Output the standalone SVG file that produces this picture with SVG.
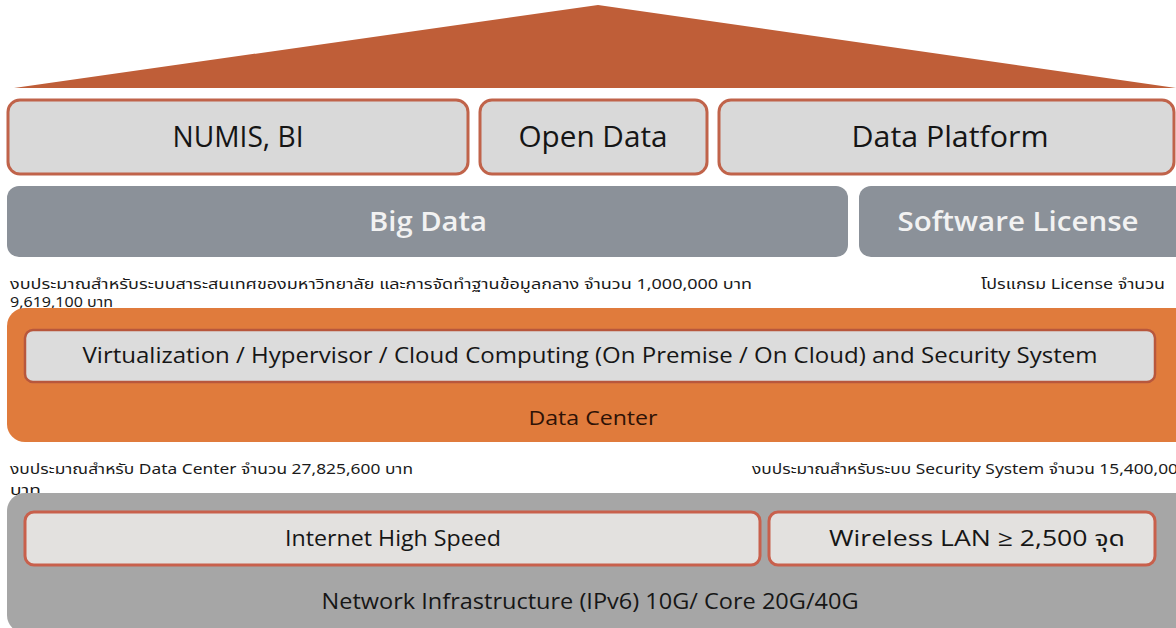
<svg xmlns="http://www.w3.org/2000/svg" width="1176" height="628" viewBox="0 0 1176 628">
<style>
.t{font-family:"Open Sans","Noto Sans","Noto Sans Thai",sans-serif;text-anchor:middle}
.top{fill:#D9D9D9;stroke:#C0634A;stroke-width:3}
.topt{font-size:29px;fill:#151515}
.mid{fill:#8B9199}
.midt{font-size:27px;fill:#F2F2F2;font-weight:600}
.note{font-family:"Noto Sans","Noto Sans Thai","Open Sans",sans-serif;font-size:14.5px;fill:#1a1a1a}
.inner{fill:#DCDCDC;stroke:#B8573C;stroke-width:2.5}
.net{fill:#E3E1DF;stroke:#C8604C;stroke-width:3}
.innt{font-size:22px;fill:#161616}
</style>
<g id="roof"><polygon points="598,5 14,88 1176,88" fill="#BF5E38"/></g>
<g id="numis"><rect class="top" x="8" y="100" width="460" height="74" rx="12"/><text class="t topt" x="238" y="147" textLength="131" lengthAdjust="spacingAndGlyphs">NUMIS, BI</text></g>
<g id="opendata"><rect class="top" x="480" y="100" width="227" height="74" rx="12"/><text class="t topt" x="593" y="147" textLength="149" lengthAdjust="spacingAndGlyphs">Open Data</text></g>
<g id="dataplatform"><rect class="top" x="719" y="100" width="455" height="74" rx="12"/><text class="t topt" x="950" y="147" textLength="197" lengthAdjust="spacingAndGlyphs">Data Platform</text></g>
<g id="notes1">
<text class="note" x="10" y="289" textLength="742" lengthAdjust="spacingAndGlyphs">งบประมาณสำหรับระบบสาระสนเทศของมหาวิทยาลัย และการจัดทำฐานข้อมูลกลาง จำนวน 1,000,000 บาท</text>
<text class="note" x="10" y="307" textLength="103" lengthAdjust="spacingAndGlyphs">9,619,100 บาท</text>
<text class="note" x="981" y="289" textLength="184" lengthAdjust="spacingAndGlyphs">โปรแกรม License จำนวน</text>
</g>
<g id="notes2">
<text class="note" x="10" y="474" textLength="403" lengthAdjust="spacingAndGlyphs">งบประมาณสำหรับ Data Center จำนวน 27,825,600 บาท</text>
<text class="note" x="10" y="495" textLength="31" lengthAdjust="spacingAndGlyphs">บาท</text>
<text class="note" x="752" y="474" textLength="426" lengthAdjust="spacingAndGlyphs">งบประมาณสำหรับระบบ Security System จำนวน 15,400,00</text>
</g>
<g id="bigdata"><rect class="mid" x="7" y="186" width="841" height="71" rx="12"/><text class="t midt" x="428" y="231" textLength="118" lengthAdjust="spacingAndGlyphs">Big Data</text></g>
<g id="software"><rect class="mid" x="859" y="186" width="330" height="71" rx="12"/><text class="t midt" x="1018" y="231" textLength="241" lengthAdjust="spacingAndGlyphs">Software License</text></g>
<g id="datacenter">
<rect x="7" y="308" width="1190" height="134" rx="18" fill="#E07B3C"/>
<rect class="inner" x="25" y="330" width="1130" height="52" rx="8"/>
<text class="t innt" x="590" y="363" textLength="1015" lengthAdjust="spacingAndGlyphs">Virtualization / Hypervisor / Cloud Computing (On Premise / On Cloud) and Security System</text>
<text class="t" x="593" y="425" font-size="20" fill="#2E1206" textLength="129" lengthAdjust="spacingAndGlyphs">Data Center</text>
</g>
<g id="network">
<rect x="7" y="493" width="1190" height="140" rx="18" fill="#A6A6A6"/>
<text class="t" x="590" y="609" font-size="21" fill="#161616" textLength="537" lengthAdjust="spacingAndGlyphs">Network Infrastructure (IPv6) 10G/ Core 20G/40G</text>
</g>
<g id="internet"><rect class="net" x="25" y="512" width="735" height="53" rx="9"/><text class="t innt" x="393" y="546" textLength="216" lengthAdjust="spacingAndGlyphs">Internet High Speed</text></g>
<g id="wireless"><rect class="net" x="769" y="512" width="386" height="53" rx="9"/><text class="t innt" x="977" y="546" textLength="296" lengthAdjust="spacingAndGlyphs">Wireless LAN ≥ 2,500 จุด</text></g>
<g id="connectors"/>
</svg>
